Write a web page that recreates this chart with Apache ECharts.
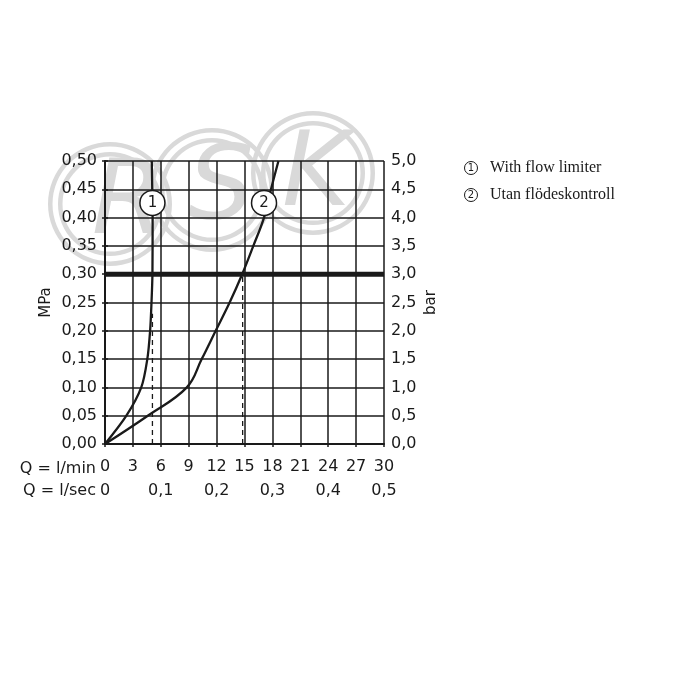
<!DOCTYPE html>
<html>
<head>
<meta charset="utf-8">
<script src="https://cdn.jsdelivr.net/npm/echarts@6/dist/echarts.min.js"></script>
<style>html,body{margin:0;padding:0;background:#fff}#c{width:700px;height:700px}</style>
</head>
<body>
<div id="c"></div>
<script>
// ---- data ----
var flowTicksMin = [0, 30, 3];          // l/min axis: min, max, interval
var flowTicksSec = [0, 0.5, 0.1];       // l/sec axis
var pressMPa = [0, 0.5, 0.05];
var pressBar = [0, 5, 0.5];
var curve1 = [[0,0],[2.3,0.05],[3.9,0.10],[4.55,0.15],[4.85,0.20],[5.0,0.25],[5.1,0.30],[5.12,0.40],[5.08,0.45],[5.03,0.50]];
var curve2 = [[0,0],[4.6,0.05],[8.8,0.10],[10.4,0.15],[11.9,0.20],[13.4,0.25],[14.75,0.30],[15.95,0.35],[17.1,0.40],[17.85,0.45],[18.65,0.50]];
var dash1 = [[5.1,0],[5.1,0.23]];
var dash2 = [[14.8,0],[14.8,0.30]];
var refLine = [[0,0.30],[30,0.30]];
var markers = [[5.1,0.426,'1'],[17.1,0.426,'2']];
var legendItems = ['With flow limiter','Utan flödeskontroll'];
var axisNames = ['MPa','bar','Q = l/min','Q = l/sec'];

var ink = '#1a1a1a';
var sans = 'DejaVu Sans';
var wm = '#d9d9d9';
function comma(d){ return function(v){ return v.toFixed(d).replace('.', ','); }; }

var chart = echarts.init(document.getElementById('c'));
var wmCenters = [[110,204,'R',128,206],[212,190,'S',221,192],[313,173,'K',316,178]];
var graphics = [];
wmCenters.forEach(function(c){
  graphics.push({type:'ring', zlevel:0, z:0, shape:{cx:c[0], cy:c[1], r:62, r0:57.5}, style:{fill:wm}, silent:true});
  graphics.push({type:'ring', zlevel:0, z:0, shape:{cx:c[0], cy:c[1], r:52, r0:47.5}, style:{fill:wm}, silent:true});
  graphics.push({type:'text', zlevel:0, z:0, x:c[3], y:c[4], silent:true,
    style:{text:c[2], fill:wm, font:'italic 104px "DejaVu Sans"', align:'center', verticalAlign:'middle'}});
});
legendItems.forEach(function(t,i){
  var y = 168 + i*27;
  graphics.push({type:'circle', zlevel:1, z:50, shape:{cx:471, cy:y, r:6.5}, style:{fill:'#fff', stroke:ink, lineWidth:1}});
  graphics.push({type:'text', zlevel:1, z:51, x:471, y:y+0.5, style:{text:String(i+1), fill:ink, font:'10px "DejaVu Sans"', align:'center', verticalAlign:'middle'}});
  graphics.push({type:'text', zlevel:1, z:50, x:490, y:y, style:{text:t, fill:ink, font:'16px "Liberation Serif"', align:'left', verticalAlign:'middle'}});
});
graphics.push({type:'text', zlevel:1, z:50, x:96, y:469, style:{text:axisNames[2], fill:ink, font:'16px "DejaVu Sans"', align:'right', verticalAlign:'middle'}});
graphics.push({type:'text', zlevel:1, z:50, x:96, y:491, style:{text:axisNames[3], fill:ink, font:'16px "DejaVu Sans"', align:'right', verticalAlign:'middle'}});

var lbl = {color:ink, fontSize:16, fontFamily:sans};
chart.setOption({
  animation:false,
  backgroundColor:'#fff',
  graphic: graphics,
  grid:{left:105, right:316, top:161, bottom:256},
  xAxis:[
    {type:'value', zlevel:1, z:10, min:flowTicksMin[0], max:flowTicksMin[1], interval:flowTicksMin[2], position:'bottom',
     axisLine:{show:true, onZero:false, lineStyle:{color:ink, width:2}},
     axisTick:{show:true, length:3, lineStyle:{color:ink, width:1.5}},
     splitLine:{show:true, lineStyle:{color:ink, width:1.5}},
     axisLabel:Object.assign({margin:15}, lbl)},
    {type:'value', zlevel:1, z:10, min:flowTicksSec[0], max:flowTicksSec[1], interval:flowTicksSec[2], position:'bottom', offset:22,
     axisLine:{show:false}, axisTick:{show:false}, splitLine:{show:false},
     axisLabel:Object.assign({margin:17, formatter:function(v){return v===0?'0':comma(1)(v);}}, lbl)}
  ],
  yAxis:[
    {type:'value', zlevel:1, z:10, min:pressMPa[0], max:pressMPa[1], interval:pressMPa[2], position:'left',
     name:axisNames[0], nameLocation:'middle', nameRotate:90, nameGap:51,
     nameTextStyle:{color:ink, fontSize:15, fontFamily:sans},
     axisLine:{show:true, lineStyle:{color:ink, width:2}},
     axisTick:{show:true, length:3, lineStyle:{color:ink, width:1.5}},
     splitLine:{show:true, lineStyle:{color:ink, width:1.5}},
     axisLabel:Object.assign({margin:8, formatter:comma(2)}, lbl)},
    {type:'value', zlevel:1, z:10, min:pressBar[0], max:pressBar[1], interval:pressBar[2], position:'right',
     name:axisNames[1], nameLocation:'middle', nameRotate:90, nameGap:40,
     nameTextStyle:{color:ink, fontSize:15, fontFamily:sans},
     axisLine:{show:true, lineStyle:{color:ink, width:1.5}},
     axisTick:{show:true, length:3, lineStyle:{color:ink, width:1.5}},
     splitLine:{show:false},
     axisLabel:Object.assign({margin:7, formatter:comma(1)}, lbl)}
  ],
  series:[
    {type:'line', zlevel:1, data:refLine, showSymbol:false, lineStyle:{color:ink, width:5}, z:20},
    {type:'line', zlevel:1, data:dash1, showSymbol:false, lineStyle:{color:ink, width:1.3, type:[5,4]}, z:20},
    {type:'line', zlevel:1, data:dash2, showSymbol:false, lineStyle:{color:ink, width:1.3, type:[5,4]}, z:20},
    {type:'line', zlevel:1, data:curve1, smooth:0.3, showSymbol:false, lineStyle:{color:ink, width:2.3}, z:21},
    {type:'line', zlevel:1, data:curve2, smooth:0.4, showSymbol:false, lineStyle:{color:ink, width:2.3}, z:21},
    {type:'scatter', zlevel:1, data:markers, symbol:'circle', symbolSize:25, z:30,
     itemStyle:{color:'#fff', borderColor:ink, borderWidth:1.5, opacity:1},
     label:{show:true, position:'inside', formatter:function(p){return p.data[2];}, color:ink, fontSize:15, fontFamily:sans}}
  ]
});
</script>
</body>
</html>
